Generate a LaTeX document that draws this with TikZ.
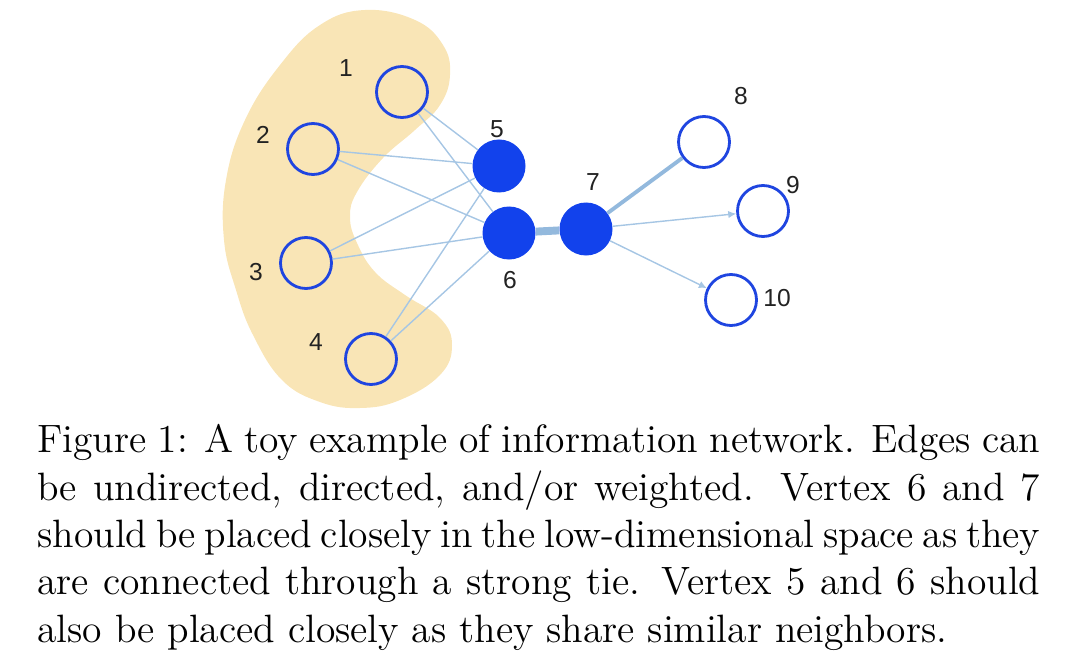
\documentclass[tikz,border=0pt]{standalone}
\usepackage{fontspec}
\newfontfamily\labelfont{Liberation Sans}
\newfontfamily\capfont[Extension=.otf]{lmroman12-regular}
\usetikzlibrary{arrows.meta}
\usepackage{xcolor}
\definecolor{blobtan}{HTML}{F9E5B6}
\definecolor{vblue}{HTML}{1F45E0}
\definecolor{vfill}{HTML}{1242EC}
\definecolor{edgeblue}{HTML}{A6C6E4}
\definecolor{tieblue}{HTML}{93B9DD}
\definecolor{ink}{HTML}{222222}
\tikzset{
  openv/.style={circle, draw=vblue, line width=1.6pt, minimum size=10.2mm, inner sep=0pt},
  fullv/.style={circle, fill=vfill, minimum size=10.6mm, inner sep=0pt},
  vlabel/.style={font=\labelfont\fontsize{14}{16}\selectfont, text=ink, inner sep=0pt},
  edge/.style={draw=edgeblue, line width=0.8pt},
  diredge/.style={edge, -{Latex[length=1.6mm, width=1.5mm]}}
}

\begin{document}
\begin{tikzpicture}[x=0.2mm, y=-0.2mm]
  \useasboundingbox (0,0) rectangle (1080,652);

  % shaded group of similar neighbours
  \fill[blobtan] plot[smooth cycle, tension=0.7] coordinates {
    (365,10) (415,20) (443,45) (450,75) (440,105) (415,130) (383,158)
    (357,192) (350,217) (357,243) (375,272) (405,295) (440,318) (452,345)
    (440,375) (400,400) (360,408) (320,402) (282,380) (253,335) (236,290)
    (224,240) (226,180) (245,120) (280,65) (320,25)};

  % vertices
  \node[openv] (n1) at (402,92) {};
  \node[openv] (n2) at (313,149) {};
  \node[openv] (n3) at (306,263) {};
  \node[openv] (n4) at (371,359) {};
  \node[fullv] (n5) at (499,166) {};
  \node[fullv] (n6) at (509,233) {};
  \node[fullv] (n7) at (586,229) {};
  \node[openv] (n8) at (704,142) {};
  \node[openv] (n9) at (763,211) {};
  \node[openv] (n10) at (731,300) {};

  % vertex numbers
  \node[vlabel] (l1) at (346,68) {1};
  \node[vlabel] (l2) at (263,135) {2};
  \node[vlabel] (l3) at (256,272) {3};
  \node[vlabel] (l4) at (316,342) {4};
  \node[vlabel] (l5) at (497,129) {5};
  \node[vlabel] (l6) at (510,280) {6};
  \node[vlabel] (l7) at (593,182) {7};
  \node[vlabel] (l8) at (741,96) {8};
  \node[vlabel] (l9) at (793,185) {9};
  \node[vlabel] (l10) at (777,298) {10};

  % edges from the group to 5 and 6
  \foreach \s in {n1,n2,n3,n4}
    \foreach \t in {n5,n6}
      \draw[edge] (\s) -- (\t);

  % strong tie and edges out of 7
  \draw[draw=tieblue, line width=4.5pt] (n6) -- (n7);
  \draw[draw=tieblue, line width=2.2pt] (n7) -- (n8);
  \draw[diredge] (n7) -- (n9);
  \draw[diredge] (n7) -- (n10);

  % caption
  \node[anchor=north west, text width=200.6mm, align=justify, inner sep=0pt,
        font=\capfont\fontsize{22.5}{27}\selectfont] (caption) at (37,424)
    {Figure 1: A toy example of information network. Edges can\linebreak
     be undirected, directed, and/or weighted. Vertex 6 and 7\linebreak
     should be placed closely in the low-dimensional space as they\linebreak
     are connected through a strong tie. Vertex 5 and 6 should\linebreak
     also be placed closely as they share similar neighbors.};
\end{tikzpicture}
\end{document}
